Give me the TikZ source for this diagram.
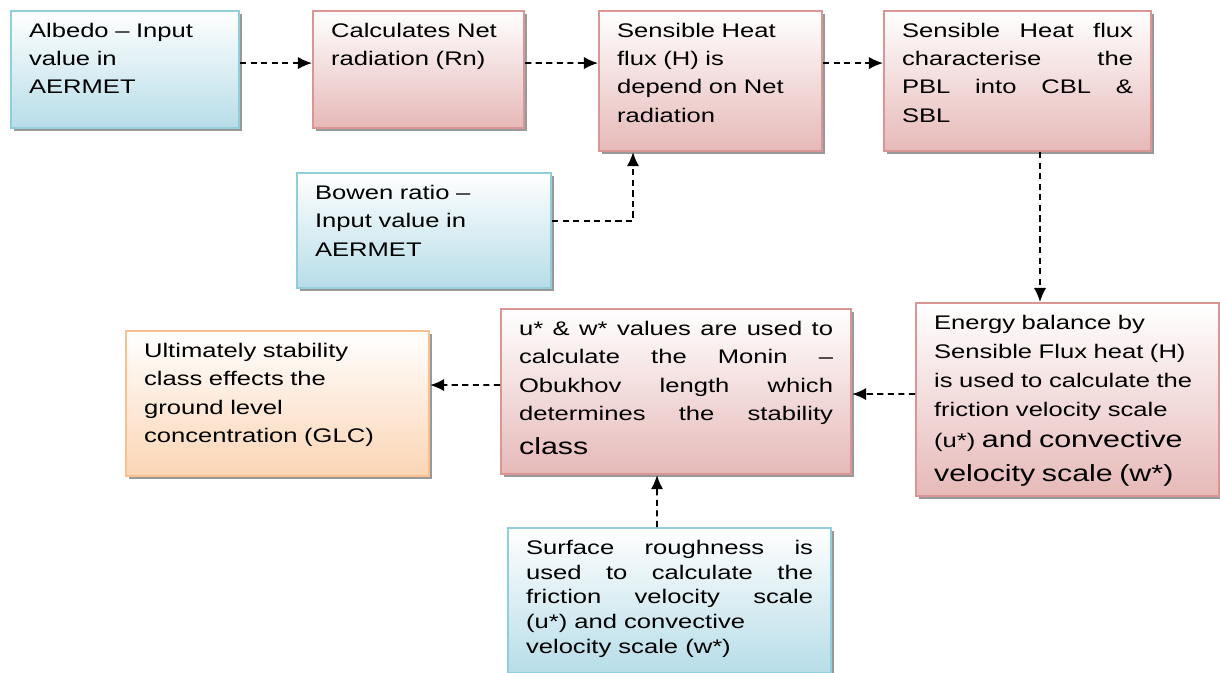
\documentclass[tikz,border=0pt]{standalone}
\usepackage{fontspec}
\setmainfont[FakeStretch=1.3]{Liberation Sans}
\usetikzlibrary{shadows,arrows.meta}
\hyphenpenalty=10000
\exhyphenpenalty=10000

\definecolor{bluel}{RGB}{146,205,220}
\definecolor{blued}{RGB}{183,221,232}
\definecolor{pinkl}{RGB}{217,150,148}
\definecolor{pinkd}{RGB}{230,185,184}
\definecolor{orgl}{RGB}{250,192,144}
\definecolor{orgd}{RGB}{251,213,181}

\newcommand{\nf}{\fontsize{11.2}{16.2}\selectfont}
\newcommand{\bt}{\fontsize{13.3}{16.2}\selectfont}

\tikzset{
  box/.style={anchor=north west, line width=1.2pt, inner xsep=0.36cm, inner ysep=0.18cm,
    text height=0.34cm, align=left, font=\nf, top color=white,
    drop shadow={shadow xshift=0.06cm, shadow yshift=-0.06cm, fill=black!40, opacity=1}},
  bluebox/.style={box, draw=bluel, bottom color=blued},
  pinkbox/.style={box, draw=pinkl, bottom color=pinkd},
  orgbox/.style={box, draw=orgl, bottom color=orgd},
  flow/.style={-{Latex[length=8pt,width=7pt]}, line width=1pt, dash pattern=on 3.5pt off 2.5pt}
}

\begin{document}
\begin{tikzpicture}
    \useasboundingbox (0,0) rectangle (24.4,-13.44);

    % top row
    \node[bluebox, text width=3.84cm, text depth=1.64cm] (albedo) at (0.2,-0.2)
        {Albedo – Input\\ value in\\ AERMET};
    \node[pinkbox, text width=3.5cm, text depth=1.64cm] (calc) at (6.24,-0.2)
        {Calculates Net\\ radiation (Rn)};
    \node[pinkbox, text width=3.74cm, text depth=2.1cm] (sens) at (11.96,-0.2)
        {Sensible Heat\\ flux (H) is\\ depend on Net\\ radiation};
    \node[pinkbox, text width=4.62cm, text depth=2.1cm, align=justify] (pbl) at (17.66,-0.2)
        {Sensible Heat flux\linebreak characterise the\linebreak PBL into CBL \&\linebreak SBL};

    % bowen ratio
    \node[bluebox, text width=4.36cm, text depth=1.6cm] (bowen) at (5.92,-3.44)
        {Bowen ratio –\\ Input value in\\ AERMET};

    % middle row
    \node[pinkbox, text width=5.34cm, text depth=3.16cm,
          font=\fontsize{11.2}{16.6}\selectfont] (energy) at (18.3,-6.04)
        {Energy balance by\\ Sensible Flux heat (H)\\ is used to calculate the\\ friction velocity scale\\[1pt]
         (u*) {\bt and convective}\\[3pt] {\bt velocity scale (w*)}};
    \node[pinkbox, text width=6.28cm, text depth=2.6cm, align=justify] (uw) at (10.0,-6.16)
        {u* \& w* values are used to\linebreak calculate the Monin –\linebreak Obukhov length which\linebreak
         determines the stability\linebreak {\bt\rule{0pt}{16pt}class}};
    \node[orgbox, text width=5.34cm, text depth=2.2cm] (ult) at (2.5,-6.6)
        {Ultimately stability\\ class effects the\\ ground level\\ concentration (GLC)};

    % surface roughness
    \node[bluebox, text width=5.74cm, text depth=2.2cm, align=justify,
          font=\fontsize{11.2}{14.2}\selectfont] (surf) at (10.14,-10.54)
        {Surface roughness is\linebreak used to calculate the\linebreak friction velocity scale\linebreak
         (u*) and convective\\ velocity scale (w*)};

    % arrows
    \draw[flow] ([yshift=.13cm]albedo.east) -- ([yshift=.13cm]calc.west);
    \draw[flow] ([yshift=.13cm]calc.east) -- ([yshift=.36cm]sens.west);
    \draw[flow] ([yshift=.36cm]sens.east) -- ([yshift=.36cm]pbl.west);
    \draw[flow] ([yshift=.19cm]bowen.east) -| ([xshift=.7cm]sens.south west);
    \draw[flow] ([xshift=3.14cm]pbl.south west) -- ([xshift=2.5cm]energy.north west);
    \draw[flow] ([yshift=.11cm]energy.west) -- ([yshift=-.05cm]uw.east);
    \draw[flow] ([yshift=.13cm]uw.west) -- ([yshift=.37cm]ult.east);
    \draw[flow] ([xshift=3cm]surf.north west) -- ([xshift=3.14cm]uw.south west);
\end{tikzpicture}
\end{document}
